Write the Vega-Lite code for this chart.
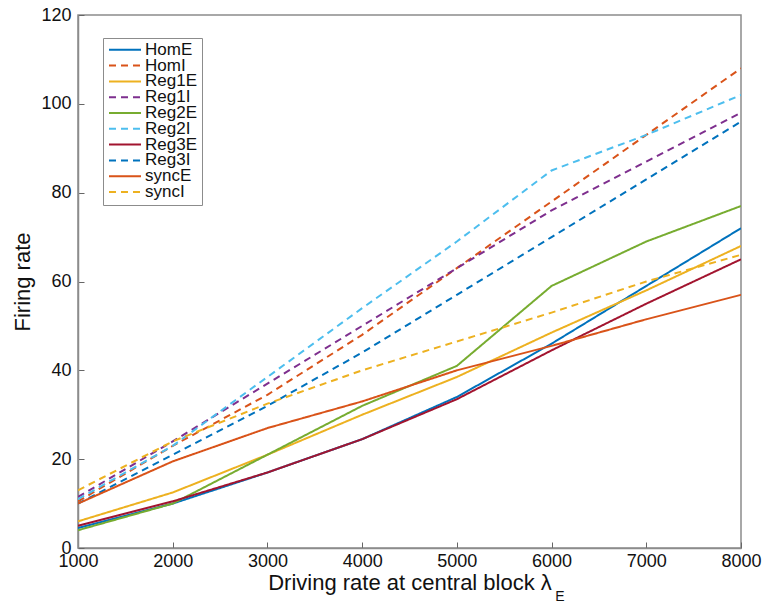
{
  "$schema": "https://vega.github.io/schema/vega-lite/v6.json",
  "autosize": "none",
  "width": 663,
  "height": 533,
  "padding": {"left": 78, "top": 15, "right": 22, "bottom": 66},
  "background": "white",
  "config": {
    "font": "Liberation Sans",
    "view": {"stroke": "#8c8c8c", "strokeWidth": 1.5},
    "axis": {
      "grid": false,
      "domainColor": "#8c8c8c",
      "domainWidth": 1.5,
      "tickColor": "#666666",
      "tickWidth": 1,
      "labelColor": "#111111",
      "titleColor": "#111111",
      "labelFont": "Liberation Sans",
      "titleFont": "Liberation Sans",
      "labelFontSize": 18,
      "titleFontSize": 22,
      "titleFontWeight": "normal"
    }
  },
  "datasets": {
    "rates": [
      {"drive": 1000, "series": "HomE", "rate": 4.5},
      {"drive": 2000, "series": "HomE", "rate": 10},
      {"drive": 3000, "series": "HomE", "rate": 17},
      {"drive": 4000, "series": "HomE", "rate": 24.5},
      {"drive": 5000, "series": "HomE", "rate": 34},
      {"drive": 6000, "series": "HomE", "rate": 46},
      {"drive": 7000, "series": "HomE", "rate": 59},
      {"drive": 8000, "series": "HomE", "rate": 72},
      {"drive": 1000, "series": "HomI", "rate": 10.5},
      {"drive": 2000, "series": "HomI", "rate": 23},
      {"drive": 3000, "series": "HomI", "rate": 34.5},
      {"drive": 4000, "series": "HomI", "rate": 48},
      {"drive": 5000, "series": "HomI", "rate": 63},
      {"drive": 6000, "series": "HomI", "rate": 78},
      {"drive": 7000, "series": "HomI", "rate": 93},
      {"drive": 8000, "series": "HomI", "rate": 108},
      {"drive": 1000, "series": "Reg1E", "rate": 6},
      {"drive": 2000, "series": "Reg1E", "rate": 12.5},
      {"drive": 3000, "series": "Reg1E", "rate": 21},
      {"drive": 4000, "series": "Reg1E", "rate": 30},
      {"drive": 5000, "series": "Reg1E", "rate": 38.5},
      {"drive": 6000, "series": "Reg1E", "rate": 48.5},
      {"drive": 7000, "series": "Reg1E", "rate": 58},
      {"drive": 8000, "series": "Reg1E", "rate": 68},
      {"drive": 1000, "series": "Reg1I", "rate": 11.5},
      {"drive": 2000, "series": "Reg1I", "rate": 24},
      {"drive": 3000, "series": "Reg1I", "rate": 37},
      {"drive": 4000, "series": "Reg1I", "rate": 50},
      {"drive": 5000, "series": "Reg1I", "rate": 63},
      {"drive": 6000, "series": "Reg1I", "rate": 76},
      {"drive": 7000, "series": "Reg1I", "rate": 87},
      {"drive": 8000, "series": "Reg1I", "rate": 98},
      {"drive": 1000, "series": "Reg2E", "rate": 4},
      {"drive": 2000, "series": "Reg2E", "rate": 10},
      {"drive": 3000, "series": "Reg2E", "rate": 21},
      {"drive": 4000, "series": "Reg2E", "rate": 32},
      {"drive": 5000, "series": "Reg2E", "rate": 41},
      {"drive": 6000, "series": "Reg2E", "rate": 59},
      {"drive": 7000, "series": "Reg2E", "rate": 69},
      {"drive": 8000, "series": "Reg2E", "rate": 77},
      {"drive": 1000, "series": "Reg2I", "rate": 11},
      {"drive": 2000, "series": "Reg2I", "rate": 23},
      {"drive": 3000, "series": "Reg2I", "rate": 38.5},
      {"drive": 4000, "series": "Reg2I", "rate": 54},
      {"drive": 5000, "series": "Reg2I", "rate": 69},
      {"drive": 6000, "series": "Reg2I", "rate": 85},
      {"drive": 7000, "series": "Reg2I", "rate": 93},
      {"drive": 8000, "series": "Reg2I", "rate": 102},
      {"drive": 1000, "series": "Reg3E", "rate": 5},
      {"drive": 2000, "series": "Reg3E", "rate": 10.5},
      {"drive": 3000, "series": "Reg3E", "rate": 17},
      {"drive": 4000, "series": "Reg3E", "rate": 24.5},
      {"drive": 5000, "series": "Reg3E", "rate": 33.5},
      {"drive": 6000, "series": "Reg3E", "rate": 44.5},
      {"drive": 7000, "series": "Reg3E", "rate": 55},
      {"drive": 8000, "series": "Reg3E", "rate": 65},
      {"drive": 1000, "series": "Reg3I", "rate": 10},
      {"drive": 2000, "series": "Reg3I", "rate": 21},
      {"drive": 3000, "series": "Reg3I", "rate": 32},
      {"drive": 4000, "series": "Reg3I", "rate": 44},
      {"drive": 5000, "series": "Reg3I", "rate": 57},
      {"drive": 6000, "series": "Reg3I", "rate": 70},
      {"drive": 7000, "series": "Reg3I", "rate": 83},
      {"drive": 8000, "series": "Reg3I", "rate": 96},
      {"drive": 1000, "series": "syncE", "rate": 10},
      {"drive": 2000, "series": "syncE", "rate": 19.5},
      {"drive": 3000, "series": "syncE", "rate": 27},
      {"drive": 4000, "series": "syncE", "rate": 33},
      {"drive": 5000, "series": "syncE", "rate": 40},
      {"drive": 6000, "series": "syncE", "rate": 45.5},
      {"drive": 7000, "series": "syncE", "rate": 51.5},
      {"drive": 8000, "series": "syncE", "rate": 57},
      {"drive": 1000, "series": "syncI", "rate": 13},
      {"drive": 2000, "series": "syncI", "rate": 24},
      {"drive": 3000, "series": "syncI", "rate": 32.5},
      {"drive": 4000, "series": "syncI", "rate": 40},
      {"drive": 5000, "series": "syncI", "rate": 46.5},
      {"drive": 6000, "series": "syncI", "rate": 53},
      {"drive": 7000, "series": "syncI", "rate": 60},
      {"drive": 8000, "series": "syncI", "rate": 66}
    ],
    "subscript": [
      {"drive": 6040, "rate": -11, "label": "E"}
    ]
  },
  "resolve": {
    "scale": {"x": "independent", "y": "independent"},
    "axis": {"x": "independent", "y": "independent"}
  },
  "layer": [
    {
      "data": {"name": "rates"},
      "mark": {"type": "line", "strokeWidth": 2, "clip": true},
      "encoding": {
        "x": {
          "field": "drive",
          "type": "quantitative",
          "scale": {"domain": [1000, 8000], "nice": false, "zero": false},
          "axis": {
            "title": "Driving rate at central block λ",
            "values": [1000, 2000, 3000, 4000, 5000, 6000, 7000, 8000],
            "format": "d",
            "tickSize": -6,
            "labelPadding": 10,
            "titlePadding": 2,
            "labelFlush": false
          }
        },
        "y": {
          "field": "rate",
          "type": "quantitative",
          "scale": {"domain": [0, 120], "nice": false},
          "axis": {
            "title": "Firing rate",
            "values": [0, 20, 40, 60, 80, 100, 120],
            "tickSize": -6,
            "labelPadding": 13,
            "titlePadding": 6
          }
        },
        "color": {
          "field": "series",
          "type": "nominal",
          "scale": {
            "domain": ["HomE", "HomI", "Reg1E", "Reg1I", "Reg2E", "Reg2I", "Reg3E", "Reg3I", "syncE", "syncI"],
            "range": ["#0072BD", "#D95319", "#EDB120", "#7E2F8E", "#77AC30", "#4DBEEE", "#A2142F", "#0072BD", "#D95319", "#EDB120"]
          },
          "legend": {
            "title": null,
            "orient": "none",
            "legendX": 25,
            "legendY": 23,
            "symbolType": "stroke",
            "symbolSize": 1024,
            "symbolStrokeWidth": 2,
            "clipHeight": 13.6,
            "labelFontSize": 17,
            "labelFont": "Liberation Sans",
            "labelColor": "#111111",
            "labelOffset": 3,
            "rowPadding": -2.2,
            "padding": 5,
            "strokeColor": "#8c8c8c",
            "fillColor": "white"
          }
        },
        "strokeDash": {
          "field": "series",
          "type": "nominal",
          "scale": {
            "domain": ["HomE", "HomI", "Reg1E", "Reg1I", "Reg2E", "Reg2I", "Reg3E", "Reg3I", "syncE", "syncI"],
            "range": [[1, 0], [7, 5], [1, 0], [7, 5], [1, 0], [7, 5], [1, 0], [7, 5], [1, 0], [7, 5]]
          },
          "legend": {
            "title": null,
            "orient": "none",
            "legendX": 25,
            "legendY": 23,
            "symbolType": "stroke",
            "symbolSize": 1024,
            "symbolStrokeWidth": 2,
            "clipHeight": 13.6,
            "labelFontSize": 17,
            "labelFont": "Liberation Sans",
            "labelColor": "#111111",
            "labelOffset": 3,
            "rowPadding": -2.2,
            "padding": 5,
            "strokeColor": "#8c8c8c",
            "fillColor": "white"
          }
        }
      }
    },
    {
      "data": {"name": "subscript"},
      "mark": {"type": "text", "align": "left", "baseline": "middle", "fontSize": 14, "font": "Liberation Sans", "color": "#111111"},
      "encoding": {
        "x": {"field": "drive", "type": "quantitative", "scale": {"domain": [1000, 8000], "nice": false, "zero": false}, "axis": null},
        "y": {"field": "rate", "type": "quantitative", "scale": {"domain": [0, 120], "nice": false}, "axis": null},
        "text": {"field": "label"}
      }
    }
  ]
}
